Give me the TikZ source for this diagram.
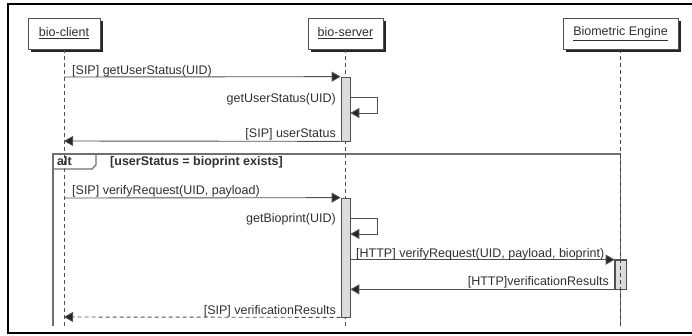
\documentclass[tikz,border=0pt]{standalone}
\usepackage{fontspec}
\setmainfont{Liberation Sans}
\usetikzlibrary{arrows.meta,shadows}
\definecolor{linegray}{HTML}{505050}
\definecolor{framegray}{HTML}{707070}
\definecolor{bargray}{HTML}{DCDCDC}
\definecolor{textgray}{HTML}{303030}
\begin{document}
\begin{tikzpicture}[x=1pt,y=-1pt,
    font=\fontsize{12.5}{14}\selectfont, text=textgray,
    actor/.style={draw=linegray,fill=white,line width=0.8pt,minimum height=31pt,inner sep=0pt,
        drop shadow={shadow xshift=3pt,shadow yshift=-3pt,fill=black!85,opacity=1}},
    lifeline/.style={draw=linegray,dashed,dash pattern=on 4pt off 3pt,line width=0.7pt},
    actbar/.style={draw=linegray,fill=bargray,line width=0.7pt,minimum width=9pt,inner sep=0pt},
    msg/.style={draw=linegray,line width=0.9pt,-{Triangle[length=9pt,width=10pt,fill=black!85]}},
    reply/.style={msg,dashed,dash pattern=on 4pt off 3pt},
    lbl/.style={inner sep=0pt}]
\useasboundingbox (0,0) rectangle (692,335);
% outer border
\draw[line width=1.2pt] (692,4) -- (8,4) -- (8,333) -- (692,333);
% participants
\begin{scope}[every node/.style={actor}]
\node[minimum width=72pt] (client) at (64,33.5) {\underline{bio-client}};
\node[minimum width=75pt] (server) at (345.5,33.5) {\underline{bio-server}};
\node[minimum width=115pt] (engine) at (620.5,33.5) {\underline{Biometric Engine}};
\end{scope}
\coordinate (clientend) at (64,326);
\coordinate (serverend) at (345.5,326);
\coordinate (engineend) at (620.5,326);
\path[lifeline] (client) -- (clientend)
                (server) -- (serverend);
% alt frame
\draw[framegray,line width=1.8pt] (53,326) -- (53,154) -- (620.5,154) -- (620.5,326);
\draw[framegray,line width=1.4pt] (53,154) -- (96,154) -- (96,165) -- (92,169) -- (53,169);
\node[lbl,anchor=base west,font=\fontsize{12.5}{14}\selectfont\bfseries] (alttag) at (57,165) {alt};
\node[lbl,anchor=base west,font=\fontsize{12.5}{14}\selectfont\bfseries] (guard) at (110,165) {[userStatus = bioprint exists]};
% activations
\begin{scope}[every node/.style={actbar}]
\node[minimum height=64pt] (act1) at (345.5,109) {};
\node[minimum height=119pt] (act2) at (345.5,257.5) {};
\node[minimum width=11pt,minimum height=29pt] (act3) at (620.5,274.5) {};
\end{scope}
\path[lifeline,line width=1.6pt,draw=linegray!80!black] (engine) -- (engineend);
\draw[linegray,line width=0.7pt] (act3.north west) rectangle (act3.south east);
% messages
\draw[msg] (client.south |- 0,77) -- (act1.north west);
\draw[msg] (act1.east |- 0,97) -- ++(27,0) |- (act1.east |- 0,113);
\draw[msg] (act1.south west) -- (client.south |- 0,141);
\draw[msg] (client.south |- 0,198) -- (act2.north west);
\draw[msg] (act2.east |- 0,218) -- ++(27,0) |- (act2.east |- 0,234);
\draw[msg] (act2.east |- act3.north) -- (act3.north west);
\draw[msg] (act3.south west) -- (act2.east |- act3.south);
\draw[reply] (act2.south west) -- (client.south |- 0,317);
% message labels
\begin{scope}[every node/.style={lbl}]
\node[anchor=base west] (m1) at (72,74) {[SIP] getUserStatus(UID)};
\node[anchor=base east] (m2) at (336,102) {getUserStatus(UID)};
\node[anchor=base east] (m3) at (336,137) {[SIP] userStatus};
\node[anchor=base west] (m4) at (72,194) {[SIP] verifyRequest(UID, payload)};
\node[anchor=base east] (m5) at (336,222) {getBioprint(UID)};
\node[anchor=base west] (m6) at (356,257) {[HTTP] verifyRequest(UID, payload, bioprint)};
\node[anchor=base east] (m7) at (609,285) {[HTTP]verificationResults};
\node[anchor=base east] (m8) at (336,314) {[SIP] verificationResults};
\end{scope}
\end{tikzpicture}
\end{document}
